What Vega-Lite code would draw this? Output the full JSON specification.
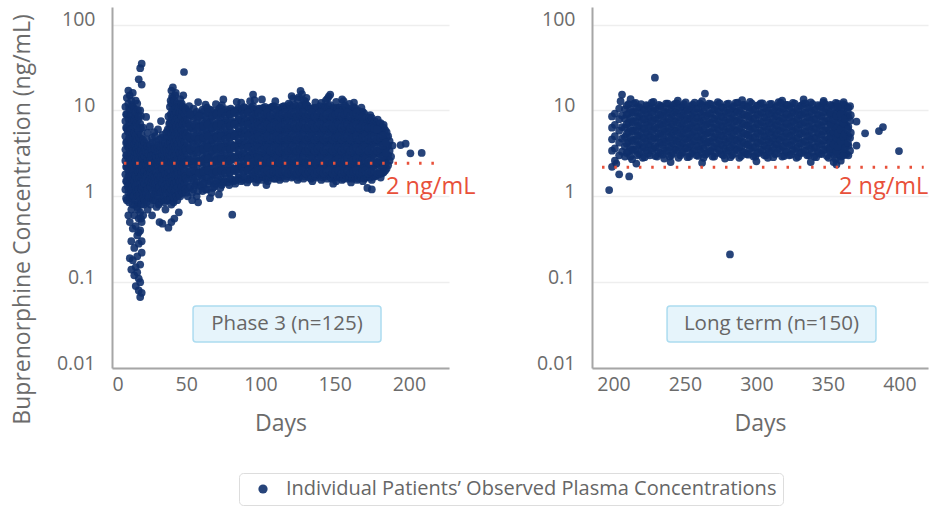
{
"$schema":"https://vega.github.io/schema/vega-lite/v6.json",
"padding":{"left":11,"top":7,"right":5,"bottom":0},
"background":"white",
"config":{"font":"Open Sans","view":{"stroke":null},
"axis":{"labelFont":"Open Sans","labelFontSize":19.5,"labelColor":"#6b6b6b","titleFont":"Open Sans","titleFontSize":23,"titleFontWeight":"normal","titleColor":"#6b6b6b","domainColor":"#a6a6a6","domainWidth":2,"ticks":false,"tickSize":0,"gridColor":"#eeeeee","gridWidth":1.5}},
"datasets":{
"phase3":[
{"d":9,"c":1.2},{"d":9,"c":1.8},{"d":9,"c":2.6},{"d":9,"c":3.5},{"d":9,"c":5.0},{"d":9,"c":7.5},{"d":9,"c":11},
{"d":9.5,"c":0.95},{"d":9.5,"c":1.5},{"d":9.5,"c":2.2},{"d":9.5,"c":3.0},{"d":9.5,"c":4.2},{"d":9.5,"c":6.3},{"d":9.5,"c":9},
{"d":10,"c":0.9},{"d":10,"c":1.5},{"d":10,"c":2.2},{"d":10,"c":3.0},{"d":10,"c":4.3},{"d":10,"c":6.2},{"d":10,"c":9.0},{"d":10,"c":14},
{"d":10.5,"c":1.3},{"d":10.5,"c":2.4},{"d":10.5,"c":3.8},{"d":10.5,"c":5.8},
{"d":11,"c":1.1},{"d":11,"c":1.7},{"d":11,"c":2.0},{"d":11,"c":2.8},{"d":11,"c":4.0},{"d":11,"c":5.6},{"d":11,"c":8.0},{"d":11,"c":12},{"d":11,"c":17},{"d":11,"c":0.6},
{"d":11.5,"c":0.85},{"d":11.5,"c":1.35},{"d":11.5,"c":2.5},{"d":11.5,"c":3.6},{"d":11.5,"c":4.8},{"d":11.5,"c":7.0},{"d":11.5,"c":10.5},
{"d":12,"c":0.5},{"d":12,"c":1.0},{"d":12,"c":1.4},{"d":12,"c":1.9},{"d":12,"c":2.5},{"d":12,"c":3.3},{"d":12,"c":4.7},{"d":12,"c":6.8},{"d":12,"c":10},{"d":12,"c":15},{"d":12,"c":0.19},
{"d":12.5,"c":1.1},{"d":12.5,"c":1.7},{"d":12.5,"c":2.9},{"d":12.5,"c":4.0},{"d":12.5,"c":6.0},{"d":12.5,"c":8.8},
{"d":13,"c":0.7},{"d":13,"c":1.2},{"d":13,"c":1.6},{"d":13,"c":2.3},{"d":13,"c":3.1},{"d":13,"c":4.4},{"d":13,"c":6.0},{"d":13,"c":8.6},{"d":13,"c":13},{"d":13,"c":0.3},{"d":13,"c":0.14},
{"d":13.5,"c":0.95},{"d":13.5,"c":1.45},{"d":13.5,"c":2.05},{"d":13.5,"c":2.7},{"d":13.5,"c":3.8},{"d":13.5,"c":5.4},{"d":13.5,"c":7.7},{"d":13.5,"c":11.5},
{"d":14,"c":0.8},{"d":14,"c":1.3},{"d":14,"c":1.8},{"d":14,"c":2.4},{"d":14,"c":3.6},{"d":14,"c":5.2},{"d":14,"c":7.3},{"d":14,"c":11},{"d":14,"c":16},{"d":14,"c":0.18},{"d":14,"c":0.42},
{"d":14.5,"c":1.0},{"d":14.5,"c":1.55},{"d":14.5,"c":2.0},{"d":14.5,"c":3.4},{"d":14.5,"c":4.9},
{"d":15,"c":0.6},{"d":15,"c":1.0},{"d":15,"c":1.5},{"d":15,"c":2.1},{"d":15,"c":2.9},{"d":15,"c":4.0},{"d":15,"c":5.5},{"d":15,"c":7.8},{"d":15,"c":0.12},{"d":15,"c":0.25},{"d":15,"c":10.5},
{"d":15.5,"c":0.8},{"d":15.5,"c":1.2},{"d":15.5,"c":1.75},{"d":15.5,"c":2.5},{"d":15.5,"c":3.3},{"d":15.5,"c":4.6},{"d":15.5,"c":6.5},{"d":15.5,"c":8.8},
{"d":16,"c":0.45},{"d":16,"c":0.9},{"d":16,"c":1.3},{"d":16,"c":1.7},{"d":16,"c":2.6},{"d":16,"c":3.8},{"d":16,"c":5.1},{"d":16,"c":9.5},{"d":16,"c":0.09},{"d":16,"c":0.15},{"d":16,"c":13},
{"d":16.5,"c":1.15},{"d":16.5,"c":2.3},{"d":16.5,"c":3.5},{"d":16.5,"c":4.4},{"d":16.5,"c":7.0},
{"d":17,"c":0.35},{"d":17,"c":0.75},{"d":17,"c":1.1},{"d":17,"c":1.6},{"d":17,"c":2.2},{"d":17,"c":3.2},{"d":17,"c":4.6},{"d":17,"c":6.5},{"d":17,"c":12},{"d":17,"c":0.13},{"d":17,"c":0.2},
{"d":17.5,"c":0.7},{"d":17.5,"c":1.0},{"d":17.5,"c":1.4},{"d":17.5,"c":1.95},{"d":17.5,"c":2.7},{"d":17.5,"c":3.7},{"d":17.5,"c":5.3},{"d":17.5,"c":7.8},{"d":17.5,"c":10},
{"d":18,"c":0.28},{"d":18,"c":0.55},{"d":18,"c":0.85},{"d":18,"c":1.2},{"d":18,"c":1.9},{"d":18,"c":2.7},{"d":18,"c":3.9},{"d":18,"c":5.8},{"d":18,"c":8.5},{"d":18,"c":23},{"d":18,"c":0.08},{"d":18,"c":0.11},{"d":18,"c":0.38},
{"d":18.5,"c":1.05},{"d":18.5,"c":1.6},{"d":18.5,"c":2.35},{"d":18.5,"c":3.3},{"d":18.5,"c":4.8},
{"d":19,"c":0.4},{"d":19,"c":0.65},{"d":19,"c":1.0},{"d":19,"c":1.4},{"d":19,"c":2.0},{"d":19,"c":3.0},{"d":19,"c":4.2},{"d":19,"c":7.0},{"d":19,"c":31},{"d":19,"c":0.067},{"d":19,"c":0.1},{"d":19,"c":0.16},{"d":19,"c":10},
{"d":19.5,"c":0.55},{"d":19.5,"c":0.9},{"d":19.5,"c":1.25},{"d":19.5,"c":1.7},{"d":19.5,"c":2.3},{"d":19.5,"c":3.2},{"d":19.5,"c":4.7},{"d":19.5,"c":6.2},{"d":19.5,"c":8.6},
{"d":20,"c":0.5},{"d":20,"c":0.8},{"d":20,"c":1.2},{"d":20,"c":1.8},{"d":20,"c":2.5},{"d":20,"c":3.4},{"d":20,"c":5.2},{"d":20,"c":35},{"d":20,"c":20},{"d":20,"c":0.22},{"d":20,"c":0.075},{"d":20,"c":0.3},
{"d":20.5,"c":1.3},{"d":20.5,"c":2.0},{"d":20.5,"c":2.8},{"d":20.5,"c":4.0},
{"d":21,"c":0.6},{"d":21,"c":1.0},{"d":21,"c":1.5},{"d":21,"c":2.3},{"d":21,"c":3.1},{"d":21,"c":4.5},{"d":21,"c":6.3},{"d":21,"c":0.95},
{"d":21.5,"c":0.8},{"d":21.5,"c":1.25},{"d":21.5,"c":1.9},{"d":21.5,"c":2.7},{"d":21.5,"c":3.8},
{"d":22,"c":0.9},{"d":22,"c":1.4},{"d":22,"c":2.0},{"d":22,"c":2.9},{"d":22,"c":4.2},
{"d":22.5,"c":1.15},{"d":22.5,"c":1.7},{"d":22.5,"c":2.45},{"d":22.5,"c":3.5},
{"d":23,"c":1.1},{"d":23,"c":1.6},{"d":23,"c":2.3},{"d":23,"c":3.3},{"d":23,"c":8.4},
{"d":23.5,"c":0.85},{"d":23.5,"c":1.35},{"d":23.5,"c":1.95},{"d":23.5,"c":2.75},{"d":23.5,"c":4.6},
{"d":24,"c":0.7},{"d":24,"c":1.2},{"d":24,"c":1.8},{"d":24,"c":2.6},{"d":24,"c":3.8},{"d":24,"c":5.5},
{"d":24.5,"c":1.0},{"d":24.5,"c":1.5},{"d":24.5,"c":2.2},{"d":24.5,"c":3.2},
{"d":25,"c":0.95},{"d":25,"c":1.5},{"d":25,"c":2.1},{"d":25,"c":3.0},
{"d":25.5,"c":1.25},{"d":25.5,"c":1.8},{"d":25.5,"c":2.6},{"d":25.5,"c":3.8},{"d":25.5,"c":6.5},
{"d":26,"c":0.8},{"d":26,"c":1.3},{"d":26,"c":1.9},{"d":26,"c":2.7},{"d":26,"c":4.0},
{"d":26.5,"c":0.95},{"d":26.5,"c":1.45},{"d":26.5,"c":2.1},{"d":26.5,"c":3.0},
{"d":27,"c":0.6},{"d":27,"c":1.0},{"d":27,"c":1.6},{"d":27,"c":2.4},{"d":27,"c":3.5},{"d":27,"c":4.8},
{"d":27.5,"c":1.15},{"d":27.5,"c":1.75},{"d":27.5,"c":2.7},{"d":27.5,"c":4.2},
{"d":28,"c":0.9},{"d":28,"c":1.4},{"d":28,"c":2.2},{"d":28,"c":3.1},
{"d":28.5,"c":1.05},{"d":28.5,"c":1.6},{"d":28.5,"c":2.45},{"d":28.5,"c":3.5},{"d":28.5,"c":5.6},
{"d":29,"c":1.2},{"d":29,"c":1.7},{"d":29,"c":2.5},{"d":29,"c":3.6},{"d":29,"c":5.0},
{"d":29.5,"c":0.9},{"d":29.5,"c":1.4},{"d":29.5,"c":2.0},{"d":29.5,"c":2.95},
{"d":30,"c":0.75},{"d":30,"c":1.1},{"d":30,"c":1.9},{"d":30,"c":2.8},{"d":30,"c":4.3},
{"d":30.5,"c":1.25},{"d":30.5,"c":1.7},{"d":30.5,"c":2.45},{"d":30.5,"c":3.7},
{"d":31,"c":1.0},{"d":31,"c":1.5},{"d":31,"c":2.3},{"d":31,"c":3.3},{"d":31,"c":6.0},
{"d":31.5,"c":0.8},{"d":31.5,"c":1.25},{"d":31.5,"c":1.8},{"d":31.5,"c":2.6},{"d":31.5,"c":4.0},
{"d":32,"c":0.5},{"d":32,"c":0.85},{"d":32,"c":1.3},{"d":32,"c":2.0},{"d":32,"c":2.9},{"d":32,"c":4.6},
{"d":32.5,"c":1.1},{"d":32.5,"c":1.6},{"d":32.5,"c":2.4},{"d":32.5,"c":3.5},
{"d":33,"c":1.1},{"d":33,"c":1.7},{"d":33,"c":2.6},{"d":33,"c":3.8},{"d":33,"c":7.5},
{"d":33.5,"c":0.95},{"d":33.5,"c":1.45},{"d":33.5,"c":2.15},{"d":33.5,"c":3.15},{"d":33.5,"c":4.8},
{"d":34,"c":0.48},{"d":34,"c":0.9},{"d":34,"c":1.4},{"d":34,"c":2.1},{"d":34,"c":3.0},{"d":34,"c":5.2},
{"d":34.5,"c":1.2},{"d":34.5,"c":1.75},{"d":34.5,"c":2.6},{"d":34.5,"c":3.9},
{"d":35,"c":1.0},{"d":35,"c":1.6},{"d":35,"c":2.4},{"d":35,"c":3.5},
{"d":35.5,"c":0.85},{"d":35.5,"c":1.3},{"d":35.5,"c":1.95},{"d":35.5,"c":2.9},{"d":35.5,"c":4.5},
{"d":36,"c":0.7},{"d":36,"c":1.2},{"d":36,"c":1.8},{"d":36,"c":2.7},{"d":36,"c":4.1},
{"d":36.5,"c":1.05},{"d":36.5,"c":1.55},{"d":36.5,"c":2.4},{"d":36.5,"c":3.5},{"d":36.5,"c":5.5},
{"d":37,"c":0.9},{"d":37,"c":1.4},{"d":37,"c":2.2},{"d":37,"c":3.2},{"d":37,"c":4.8},
{"d":37.5,"c":1.2},{"d":37.5,"c":1.7},{"d":37.5,"c":2.6},{"d":37.5,"c":3.8},{"d":37.5,"c":6.0},
{"d":38,"c":0.9},{"d":38,"c":1.3},{"d":38,"c":1.9},{"d":38,"c":2.8},{"d":38,"c":4.0},{"d":38,"c":5.8},{"d":38,"c":8.5},{"d":38,"c":0.43},
{"d":38.5,"c":1.1},{"d":38.5,"c":1.6},{"d":38.5,"c":2.35},{"d":38.5,"c":3.4},{"d":38.5,"c":4.9},{"d":38.5,"c":7.0},
{"d":39,"c":1.1},{"d":39,"c":1.6},{"d":39,"c":2.3},{"d":39,"c":3.4},{"d":39,"c":5.0},{"d":39,"c":7.2},{"d":39,"c":11},
{"d":39.5,"c":0.95},{"d":39.5,"c":1.4},{"d":39.5,"c":2.0},{"d":39.5,"c":2.9},{"d":39.5,"c":4.2},{"d":39.5,"c":6.1},{"d":39.5,"c":9.0},{"d":39.5,"c":13},
{"d":40,"c":0.8},{"d":40,"c":1.2},{"d":40,"c":1.7},{"d":40,"c":2.5},{"d":40,"c":3.7},{"d":40,"c":5.4},{"d":40,"c":8.0},{"d":40,"c":12},{"d":40,"c":17},{"d":40,"c":0.5},
{"d":40.5,"c":1.05},{"d":40.5,"c":1.5},{"d":40.5,"c":2.2},{"d":40.5,"c":3.2},{"d":40.5,"c":4.7},{"d":40.5,"c":6.9},{"d":40.5,"c":10},{"d":40.5,"c":14.5},
{"d":41,"c":1.0},{"d":41,"c":1.5},{"d":41,"c":2.1},{"d":41,"c":3.1},{"d":41,"c":4.5},{"d":41,"c":6.5},{"d":41,"c":9.5},{"d":41,"c":14},{"d":41,"c":18.5},
{"d":41.5,"c":0.85},{"d":41.5,"c":1.25},{"d":41.5,"c":1.8},{"d":41.5,"c":2.6},{"d":41.5,"c":3.8},{"d":41.5,"c":5.6},{"d":41.5,"c":8.2},{"d":41.5,"c":12},
{"d":42,"c":0.95},{"d":42,"c":1.4},{"d":42,"c":2.0},{"d":42,"c":2.9},{"d":42,"c":4.2},{"d":42,"c":6.0},{"d":42,"c":8.8},{"d":42,"c":13},{"d":42,"c":0.55},
{"d":42.5,"c":1.15},{"d":42.5,"c":1.65},{"d":42.5,"c":2.4},{"d":42.5,"c":3.5},{"d":42.5,"c":5.0},{"d":42.5,"c":7.3},{"d":42.5,"c":10.5},{"d":42.5,"c":15},
{"d":43,"c":1.2},{"d":43,"c":1.8},{"d":43,"c":2.6},{"d":43,"c":3.8},{"d":43,"c":5.5},{"d":43,"c":7.8},{"d":43,"c":11},{"d":43,"c":16},
{"d":43.5,"c":1.0},{"d":43.5,"c":1.45},{"d":43.5,"c":2.15},{"d":43.5,"c":3.1},{"d":43.5,"c":4.5},{"d":43.5,"c":6.5},{"d":43.5,"c":9.4},
{"d":44,"c":0.9},{"d":44,"c":1.3},{"d":44,"c":1.9},{"d":44,"c":2.7},{"d":44,"c":4.0},{"d":44,"c":5.7},{"d":44,"c":8.2},{"d":44,"c":12},
{"d":44.5,"c":1.25},{"d":44.5,"c":1.8},{"d":44.5,"c":2.6},{"d":44.5,"c":3.8},{"d":44.5,"c":5.4},{"d":44.5,"c":7.9},{"d":44.5,"c":11},
{"d":45,"c":1.1},{"d":45,"c":1.6},{"d":45,"c":2.4},{"d":45,"c":3.5},{"d":45,"c":5.1},{"d":45,"c":7.4},{"d":45,"c":10.5},{"d":45,"c":0.65},
{"d":45.5,"c":1.05},{"d":45.5,"c":1.5},{"d":45.5,"c":2.2},{"d":45.5,"c":3.2},{"d":45.5,"c":4.6},{"d":45.5,"c":6.6},{"d":45.5,"c":9.2},
{"d":46,"c":1.0},{"d":46,"c":1.5},{"d":46,"c":2.2},{"d":46,"c":3.2},{"d":46,"c":4.6},{"d":46,"c":6.7},{"d":46,"c":9.6},{"d":46,"c":13.5},
{"d":46.5,"c":1.2},{"d":46.5,"c":1.75},{"d":46.5,"c":2.55},{"d":46.5,"c":3.7},{"d":46.5,"c":5.4},{"d":46.5,"c":7.8},{"d":46.5,"c":11.5},
{"d":47,"c":1.3},{"d":47,"c":1.9},{"d":47,"c":2.8},{"d":47,"c":4.1},{"d":47,"c":5.9},{"d":47,"c":8.5},{"d":47,"c":12},
{"d":47.5,"c":1.1},{"d":47.5,"c":1.55},{"d":47.5,"c":2.3},{"d":47.5,"c":3.3},{"d":47.5,"c":4.8},{"d":47.5,"c":6.8},{"d":47.5,"c":9.8},
{"d":48,"c":1.2},{"d":48,"c":1.7},{"d":48,"c":2.5},{"d":48,"c":3.6},{"d":48,"c":5.2},{"d":48,"c":7.6},{"d":48,"c":11},{"d":48,"c":15},{"d":48.5,"c":28},
{"d":48.5,"c":1.3},{"d":48.5,"c":1.85},{"d":48.5,"c":2.7},{"d":48.5,"c":3.9},{"d":48.5,"c":5.6},{"d":48.5,"c":8.2},
{"d":49,"c":1.4},{"d":49,"c":2.0},{"d":49,"c":2.9},{"d":49,"c":4.3},{"d":49,"c":6.2},{"d":49,"c":9.0},
{"d":49.5,"c":1.2},{"d":49.5,"c":1.7},{"d":49.5,"c":2.5},{"d":49.5,"c":3.6},{"d":49.5,"c":5.3},{"d":49.5,"c":7.6},{"d":49.5,"c":10.5},
{"d":50,"c":1.1},{"d":50,"c":1.6},{"d":50,"c":2.4},{"d":50,"c":3.4},{"d":50,"c":5.0},{"d":50,"c":7.0},{"d":50,"c":10},
{"d":51,"c":1.0},{"d":51,"c":1.5},{"d":51,"c":2.2},{"d":51,"c":3.0},{"d":51,"c":4.1},{"d":51,"c":5.6},{"d":51,"c":7.8},{"d":52,"c":11.2},
{"d":52,"c":1.25},{"d":52,"c":1.85},{"d":52,"c":2.7},{"d":52,"c":3.7},{"d":52,"c":5.0},{"d":52,"c":6.9},{"d":52,"c":9.4},
{"d":53,"c":1.3},{"d":53,"c":1.8},{"d":53,"c":2.5},{"d":53,"c":3.4},{"d":53,"c":4.6},{"d":53,"c":6.3},{"d":53,"c":8.9},
{"d":54,"c":1.1},{"d":54,"c":1.6},{"d":54,"c":2.35},{"d":54,"c":3.3},{"d":54,"c":4.5},{"d":54,"c":6.2},{"d":54,"c":8.6},
{"d":55,"c":1.2},{"d":55,"c":1.7},{"d":55,"c":2.3},{"d":55,"c":3.2},{"d":55,"c":4.3},{"d":55,"c":5.9},{"d":55,"c":8.1},{"d":55,"c":10.5},
{"d":56,"c":1.35},{"d":56,"c":1.9},{"d":56,"c":2.55},{"d":56,"c":3.45},{"d":56,"c":4.8},{"d":56,"c":6.6},{"d":56,"c":9.0},
{"d":57,"c":1.0},{"d":57,"c":1.45},{"d":57,"c":2.0},{"d":57,"c":2.8},{"d":57,"c":3.8},{"d":57,"c":5.2},{"d":57,"c":7.2},{"d":57,"c":9.6},
{"d":58,"c":1.15},{"d":58,"c":1.7},{"d":58,"c":2.4},{"d":58,"c":3.25},{"d":58,"c":4.4},{"d":58,"c":5.9},{"d":58,"c":8.2},
{"d":59,"c":1.35},{"d":59,"c":1.9},{"d":59,"c":2.6},{"d":59,"c":3.6},{"d":59,"c":4.9},{"d":59,"c":6.7},{"d":59,"c":9.2},
{"d":60,"c":1.3},{"d":60,"c":1.75},{"d":60,"c":2.5},{"d":60,"c":3.5},{"d":60,"c":4.7},{"d":60,"c":6.4},{"d":60,"c":8.8},
{"d":61,"c":1.15},{"d":61,"c":1.6},{"d":61,"c":2.2},{"d":61,"c":3.0},{"d":61,"c":4.1},{"d":61,"c":5.6},{"d":61,"c":7.6},{"d":61,"c":10.2},
{"d":62,"c":1.45},{"d":62,"c":2.0},{"d":62,"c":2.75},{"d":62,"c":3.8},{"d":62,"c":5.2},{"d":62,"c":7.0},{"d":62,"c":9.8},
{"d":63,"c":1.2},{"d":63,"c":1.75},{"d":63,"c":2.4},{"d":63,"c":3.3},{"d":63,"c":4.5},{"d":63,"c":6.1},{"d":63,"c":8.4},{"d":63,"c":11.7},
{"d":64,"c":1.2},{"d":64,"c":1.65},{"d":64,"c":2.3},{"d":64,"c":3.1},{"d":64,"c":4.2},{"d":64,"c":5.8},{"d":64,"c":8.0},{"d":64,"c":10.8},
{"d":65,"c":1.4},{"d":65,"c":1.95},{"d":65,"c":2.7},{"d":65,"c":3.7},{"d":65,"c":5.0},{"d":65,"c":6.9},{"d":65,"c":9.4},
{"d":66,"c":1.5},{"d":66,"c":2.1},{"d":66,"c":2.85},{"d":66,"c":3.9},{"d":66,"c":5.4},{"d":66,"c":7.3},{"d":66,"c":10.2},
{"d":67,"c":1.1},{"d":67,"c":1.55},{"d":67,"c":2.1},{"d":67,"c":2.9},{"d":67,"c":4.0},{"d":67,"c":5.4},{"d":67,"c":7.4},{"d":67,"c":10.0},
{"d":68,"c":1.25},{"d":68,"c":1.75},{"d":68,"c":2.4},{"d":68,"c":3.3},{"d":68,"c":4.5},{"d":68,"c":6.2},{"d":68,"c":8.5},
{"d":69,"c":1.3},{"d":69,"c":1.8},{"d":69,"c":2.5},{"d":69,"c":3.45},{"d":69,"c":4.7},{"d":69,"c":6.4},{"d":69,"c":8.8},
{"d":70,"c":1.4},{"d":70,"c":1.95},{"d":70,"c":2.65},{"d":70,"c":3.65},{"d":70,"c":5.0},{"d":70,"c":6.8},{"d":70,"c":9.3},
{"d":71,"c":1.5},{"d":71,"c":2.05},{"d":71,"c":2.8},{"d":71,"c":3.8},{"d":71,"c":5.2},{"d":71,"c":7.1},{"d":71,"c":9.7},
{"d":72,"c":1.55},{"d":72,"c":2.15},{"d":72,"c":2.95},{"d":72,"c":4.0},{"d":72,"c":5.5},{"d":72,"c":7.5},{"d":72,"c":10.4},
{"d":73,"c":1.25},{"d":73,"c":1.7},{"d":73,"c":2.35},{"d":73,"c":3.2},{"d":73,"c":4.4},{"d":73,"c":6.0},{"d":73,"c":8.2},{"d":73,"c":10.8},
{"d":74,"c":1.35},{"d":74,"c":1.85},{"d":74,"c":2.5},{"d":74,"c":3.45},{"d":74,"c":4.75},{"d":74,"c":6.5},{"d":74,"c":8.9},{"d":74,"c":11.5},
{"d":75,"c":1.45},{"d":75,"c":2.0},{"d":75,"c":2.75},{"d":75,"c":3.75},{"d":75,"c":5.1},{"d":75,"c":7.0},{"d":75,"c":9.5},{"d":75,"c":13.4},
{"d":76,"c":1.5},{"d":76,"c":2.05},{"d":76,"c":2.8},{"d":76,"c":3.85},{"d":76,"c":5.3},{"d":76,"c":7.2},{"d":76,"c":9.9},
{"d":77,"c":1.6},{"d":77,"c":2.2},{"d":77,"c":3.0},{"d":77,"c":4.1},{"d":77,"c":5.6},{"d":77,"c":7.6},{"d":77,"c":10.3},
{"d":78,"c":1.45},{"d":78,"c":2.0},{"d":78,"c":2.7},{"d":78,"c":3.7},{"d":78,"c":5.05},{"d":78,"c":6.9},{"d":78,"c":9.4},
{"d":79,"c":1.35},{"d":79,"c":1.85},{"d":79,"c":2.55},{"d":79,"c":3.5},{"d":79,"c":4.8},{"d":79,"c":6.5},{"d":79,"c":8.9},
{"d":80,"c":1.6},{"d":80,"c":2.2},{"d":80,"c":3.0},{"d":80,"c":4.1},{"d":80,"c":5.6},{"d":80,"c":7.7},{"d":80,"c":10.5},
{"d":81,"c":1.55},{"d":81,"c":2.1},{"d":81,"c":2.9},{"d":81,"c":3.95},{"d":81,"c":5.4},{"d":81,"c":7.3},{"d":81,"c":10.0},{"d":81,"c":0.61},
{"d":82,"c":1.5},{"d":82,"c":2.05},{"d":82,"c":2.8},{"d":82,"c":3.8},{"d":82,"c":5.2},{"d":82,"c":7.1},{"d":82,"c":9.6},
{"d":83,"c":1.4},{"d":83,"c":1.95},{"d":83,"c":2.65},{"d":83,"c":3.6},{"d":83,"c":4.95},{"d":83,"c":6.75},{"d":83,"c":9.2},
{"d":84,"c":1.55},{"d":84,"c":2.1},{"d":84,"c":2.9},{"d":84,"c":3.95},{"d":84,"c":5.4},{"d":84,"c":7.4},{"d":84,"c":10.1},
{"d":85,"c":1.65},{"d":85,"c":2.25},{"d":85,"c":3.1},{"d":85,"c":4.2},{"d":85,"c":5.7},{"d":85,"c":7.8},{"d":85,"c":10.6},
{"d":86,"c":1.6},{"d":86,"c":2.2},{"d":86,"c":2.95},{"d":86,"c":4.05},{"d":86,"c":5.5},{"d":86,"c":7.5},{"d":86,"c":10.2},
{"d":87,"c":1.5},{"d":87,"c":2.05},{"d":87,"c":2.8},{"d":87,"c":3.85},{"d":87,"c":5.25},{"d":87,"c":7.15},{"d":87,"c":9.75},{"d":87,"c":12.3},
{"d":88,"c":1.55},{"d":88,"c":2.15},{"d":88,"c":2.9},{"d":88,"c":3.95},{"d":88,"c":5.4},{"d":88,"c":7.35},{"d":88,"c":10.0},
{"d":89,"c":1.7},{"d":89,"c":2.3},{"d":89,"c":3.15},{"d":89,"c":4.3},{"d":89,"c":5.85},{"d":89,"c":8.0},{"d":89,"c":10.9},
{"d":90,"c":1.65},{"d":90,"c":2.25},{"d":90,"c":3.05},{"d":90,"c":4.2},{"d":90,"c":5.7},{"d":90,"c":7.8},{"d":90,"c":10.6},
{"d":91,"c":1.45},{"d":91,"c":2.0},{"d":91,"c":2.7},{"d":91,"c":3.7},{"d":91,"c":5.05},{"d":91,"c":6.9},{"d":91,"c":9.4},
{"d":92,"c":1.55},{"d":92,"c":2.1},{"d":92,"c":2.85},{"d":92,"c":3.9},{"d":92,"c":5.3},{"d":92,"c":7.2},{"d":92,"c":9.9},
{"d":93,"c":1.6},{"d":93,"c":2.2},{"d":93,"c":3.0},{"d":93,"c":4.1},{"d":93,"c":5.55},{"d":93,"c":7.6},{"d":93,"c":10.4},{"d":93,"c":12.8},
{"d":94,"c":1.7},{"d":94,"c":2.3},{"d":94,"c":3.15},{"d":94,"c":4.3},{"d":94,"c":5.85},{"d":94,"c":8.0},{"d":94,"c":10.8},
{"d":95,"c":1.75},{"d":95,"c":2.4},{"d":95,"c":3.25},{"d":95,"c":4.45},{"d":95,"c":6.05},{"d":95,"c":8.25},{"d":95,"c":11.2},{"d":95,"c":15.3},
{"d":96,"c":1.6},{"d":96,"c":2.15},{"d":96,"c":2.95},{"d":96,"c":4.0},{"d":96,"c":5.5},{"d":96,"c":7.5},{"d":96,"c":10.2},{"d":96,"c":13.2},
{"d":97,"c":1.45},{"d":97,"c":1.95},{"d":97,"c":2.65},{"d":97,"c":3.65},{"d":97,"c":4.95},{"d":97,"c":6.75},{"d":97,"c":9.2},
{"d":98,"c":1.55},{"d":98,"c":2.1},{"d":98,"c":2.9},{"d":98,"c":3.9},{"d":98,"c":5.35},{"d":98,"c":7.3},{"d":98,"c":9.9},
{"d":99,"c":1.65},{"d":99,"c":2.25},{"d":99,"c":3.05},{"d":99,"c":4.15},{"d":99,"c":5.65},{"d":99,"c":7.7},{"d":99,"c":10.5},
{"d":100,"c":1.65},{"d":100,"c":2.25},{"d":100,"c":3.05},{"d":100,"c":4.15},{"d":100,"c":5.65},{"d":100,"c":7.7},{"d":100,"c":10.5},
{"d":101,"c":1.55},{"d":101,"c":2.1},{"d":101,"c":2.85},{"d":101,"c":3.9},{"d":101,"c":5.3},{"d":101,"c":7.25},{"d":101,"c":9.85},{"d":101,"c":13.4},
{"d":102,"c":1.7},{"d":102,"c":2.3},{"d":102,"c":3.1},{"d":102,"c":4.25},{"d":102,"c":5.8},{"d":102,"c":7.9},{"d":102,"c":10.7},
{"d":103,"c":1.8},{"d":103,"c":2.45},{"d":103,"c":3.35},{"d":103,"c":4.55},{"d":103,"c":6.2},{"d":103,"c":8.45},{"d":103,"c":11.0},
{"d":104,"c":1.6},{"d":104,"c":2.2},{"d":104,"c":3.0},{"d":104,"c":4.05},{"d":104,"c":5.55},{"d":104,"c":7.55},{"d":104,"c":10.3},
{"d":105,"c":1.5},{"d":105,"c":2.05},{"d":105,"c":2.8},{"d":105,"c":3.8},{"d":105,"c":5.2},{"d":105,"c":7.05},{"d":105,"c":9.6},
{"d":106,"c":1.65},{"d":106,"c":2.25},{"d":106,"c":3.05},{"d":106,"c":4.2},{"d":106,"c":5.7},{"d":106,"c":7.75},{"d":106,"c":10.6},
{"d":107,"c":1.7},{"d":107,"c":2.3},{"d":107,"c":3.15},{"d":107,"c":4.3},{"d":107,"c":5.85},{"d":107,"c":7.95},{"d":107,"c":10.8},
{"d":108,"c":1.75},{"d":108,"c":2.35},{"d":108,"c":3.2},{"d":108,"c":4.4},{"d":108,"c":6.0},{"d":108,"c":8.15},{"d":108,"c":11.1},
{"d":109,"c":1.6},{"d":109,"c":2.15},{"d":109,"c":2.95},{"d":109,"c":4.0},{"d":109,"c":5.45},{"d":109,"c":7.45},{"d":109,"c":11.2},
{"d":110,"c":1.6},{"d":110,"c":2.2},{"d":110,"c":3.0},{"d":110,"c":4.1},{"d":110,"c":5.55},{"d":110,"c":7.6},{"d":110,"c":10.3},
{"d":111,"c":1.85},{"d":111,"c":2.5},{"d":111,"c":3.4},{"d":111,"c":4.65},{"d":111,"c":6.3},{"d":111,"c":8.6},
{"d":112,"c":1.7},{"d":112,"c":2.3},{"d":112,"c":3.15},{"d":112,"c":4.3},{"d":112,"c":5.85},{"d":112,"c":7.95},{"d":112,"c":10.8},
{"d":113,"c":1.55},{"d":113,"c":2.1},{"d":113,"c":2.9},{"d":113,"c":3.95},{"d":113,"c":5.35},{"d":113,"c":7.3},{"d":113,"c":9.9},
{"d":114,"c":1.65},{"d":114,"c":2.25},{"d":114,"c":3.05},{"d":114,"c":4.15},{"d":114,"c":5.65},{"d":114,"c":7.7},{"d":114,"c":10.5},
{"d":115,"c":1.75},{"d":115,"c":2.35},{"d":115,"c":3.2},{"d":115,"c":4.4},{"d":115,"c":6.0},{"d":115,"c":8.15},{"d":115,"c":11.1},
{"d":116,"c":1.75},{"d":116,"c":2.4},{"d":116,"c":3.25},{"d":116,"c":4.45},{"d":116,"c":6.05},{"d":116,"c":8.25},{"d":116,"c":11.2},
{"d":117,"c":1.6},{"d":117,"c":2.2},{"d":117,"c":3.0},{"d":117,"c":4.1},{"d":117,"c":5.55},{"d":117,"c":7.55},{"d":117,"c":10.3},
{"d":118,"c":1.7},{"d":118,"c":2.3},{"d":118,"c":3.1},{"d":118,"c":4.25},{"d":118,"c":5.8},{"d":118,"c":7.9},{"d":118,"c":10.7},
{"d":119,"c":1.9},{"d":119,"c":2.55},{"d":119,"c":3.5},{"d":119,"c":4.75},{"d":119,"c":6.45},{"d":119,"c":8.8},{"d":119,"c":12.0},
{"d":120,"c":1.8},{"d":120,"c":2.45},{"d":120,"c":3.35},{"d":120,"c":4.55},{"d":120,"c":6.2},{"d":120,"c":8.45},{"d":120,"c":11.5},
{"d":121,"c":1.65},{"d":121,"c":2.25},{"d":121,"c":3.05},{"d":121,"c":4.15},{"d":121,"c":5.65},{"d":121,"c":7.7},{"d":121,"c":10.5},{"d":121,"c":14.7},
{"d":122,"c":1.7},{"d":122,"c":2.3},{"d":122,"c":3.15},{"d":122,"c":4.3},{"d":122,"c":5.85},{"d":122,"c":7.95},{"d":122,"c":10.8},{"d":122,"c":13.8},
{"d":123,"c":1.8},{"d":123,"c":2.45},{"d":123,"c":3.35},{"d":123,"c":4.55},{"d":123,"c":6.2},{"d":123,"c":8.45},{"d":123,"c":11.5},
{"d":124,"c":1.75},{"d":124,"c":2.4},{"d":124,"c":3.25},{"d":124,"c":4.45},{"d":124,"c":6.05},{"d":124,"c":8.25},{"d":124,"c":11.2},
{"d":125,"c":1.55},{"d":125,"c":2.1},{"d":125,"c":2.85},{"d":125,"c":3.9},{"d":125,"c":5.3},{"d":125,"c":7.2},{"d":125,"c":9.8},{"d":125,"c":13.5},
{"d":126,"c":1.65},{"d":126,"c":2.25},{"d":126,"c":3.05},{"d":126,"c":4.15},{"d":126,"c":5.65},{"d":126,"c":7.7},{"d":126,"c":10.5},{"d":126,"c":14.3},
{"d":127,"c":1.75},{"d":127,"c":2.4},{"d":127,"c":3.25},{"d":127,"c":4.45},{"d":127,"c":6.05},{"d":127,"c":8.25},{"d":127,"c":11.2},{"d":127,"c":16.9},
{"d":128,"c":1.8},{"d":128,"c":2.45},{"d":128,"c":3.35},{"d":128,"c":4.55},{"d":128,"c":6.2},{"d":128,"c":8.45},{"d":128,"c":11.5},{"d":128,"c":15.5},
{"d":129,"c":1.6},{"d":129,"c":2.15},{"d":129,"c":2.95},{"d":129,"c":4.0},{"d":129,"c":5.45},{"d":129,"c":7.45},{"d":129,"c":10.1},{"d":129,"c":13.0},
{"d":130,"c":1.7},{"d":130,"c":2.3},{"d":130,"c":3.15},{"d":130,"c":4.3},{"d":130,"c":5.85},{"d":130,"c":7.95},{"d":130,"c":10.8},{"d":130,"c":12.8},
{"d":131,"c":1.85},{"d":131,"c":2.5},{"d":131,"c":3.4},{"d":131,"c":4.65},{"d":131,"c":6.3},{"d":131,"c":8.6},{"d":131,"c":11.7},{"d":131,"c":14.0},
{"d":132,"c":1.75},{"d":132,"c":2.4},{"d":132,"c":3.25},{"d":132,"c":4.45},{"d":132,"c":6.05},{"d":132,"c":8.25},{"d":132,"c":11.2},
{"d":133,"c":1.65},{"d":133,"c":2.25},{"d":133,"c":3.05},{"d":133,"c":4.15},{"d":133,"c":5.65},{"d":133,"c":7.7},{"d":133,"c":10.5},
{"d":134,"c":1.6},{"d":134,"c":2.2},{"d":134,"c":3.0},{"d":134,"c":4.1},{"d":134,"c":5.55},{"d":134,"c":7.55},{"d":134,"c":10.3},
{"d":135,"c":1.5},{"d":135,"c":2.05},{"d":135,"c":2.8},{"d":135,"c":3.8},{"d":135,"c":5.2},{"d":135,"c":7.05},{"d":135,"c":9.6},
{"d":136,"c":1.7},{"d":136,"c":2.3},{"d":136,"c":3.1},{"d":136,"c":4.25},{"d":136,"c":5.8},{"d":136,"c":7.9},{"d":136,"c":10.7},
{"d":137,"c":1.7},{"d":137,"c":2.3},{"d":137,"c":3.15},{"d":137,"c":4.3},{"d":137,"c":5.85},{"d":137,"c":7.95},{"d":137,"c":10.8},
{"d":138,"c":1.65},{"d":138,"c":2.25},{"d":138,"c":3.05},{"d":138,"c":4.15},{"d":138,"c":5.65},{"d":138,"c":7.7},{"d":138,"c":10.5},
{"d":139,"c":1.85},{"d":139,"c":2.5},{"d":139,"c":3.4},{"d":139,"c":4.6},{"d":139,"c":6.25},{"d":139,"c":8.5},
{"d":140,"c":1.75},{"d":140,"c":2.4},{"d":140,"c":3.25},{"d":140,"c":4.45},{"d":140,"c":6.05},{"d":140,"c":8.25},{"d":140,"c":11.2},
{"d":141,"c":1.55},{"d":141,"c":2.1},{"d":141,"c":2.9},{"d":141,"c":3.95},{"d":141,"c":5.35},{"d":141,"c":7.3},{"d":141,"c":9.9},{"d":141,"c":12.2},
{"d":142,"c":1.65},{"d":142,"c":2.25},{"d":142,"c":3.05},{"d":142,"c":4.2},{"d":142,"c":5.7},{"d":142,"c":7.75},{"d":142,"c":10.6},
{"d":143,"c":1.75},{"d":143,"c":2.35},{"d":143,"c":3.2},{"d":143,"c":4.4},{"d":143,"c":6.0},{"d":143,"c":8.15},{"d":143,"c":11.1},
{"d":144,"c":1.7},{"d":144,"c":2.35},{"d":144,"c":3.2},{"d":144,"c":4.35},{"d":144,"c":5.9},{"d":144,"c":8.05},{"d":144,"c":10.9},{"d":144,"c":13},
{"d":145,"c":1.6},{"d":145,"c":2.2},{"d":145,"c":3.0},{"d":145,"c":4.1},{"d":145,"c":5.55},{"d":145,"c":7.55},{"d":145,"c":10.3},{"d":145,"c":13.6},
{"d":146,"c":1.75},{"d":146,"c":2.4},{"d":146,"c":3.25},{"d":146,"c":4.45},{"d":146,"c":6.05},{"d":146,"c":8.25},{"d":146,"c":11.2},{"d":146,"c":14.5},
{"d":147,"c":1.8},{"d":147,"c":2.45},{"d":147,"c":3.35},{"d":147,"c":4.55},{"d":147,"c":6.2},{"d":147,"c":8.45},{"d":147,"c":11.5},{"d":147,"c":15.3},
{"d":148,"c":1.6},{"d":148,"c":2.2},{"d":148,"c":3.0},{"d":148,"c":4.1},{"d":148,"c":5.55},{"d":148,"c":7.6},{"d":148,"c":10.3},
{"d":149,"c":1.65},{"d":149,"c":2.25},{"d":149,"c":3.05},{"d":149,"c":4.15},{"d":149,"c":5.65},{"d":149,"c":7.7},{"d":149,"c":10.5},
{"d":150,"c":1.7},{"d":150,"c":2.3},{"d":150,"c":3.15},{"d":150,"c":4.3},{"d":150,"c":5.85},{"d":150,"c":7.95},{"d":150,"c":10.8},
{"d":151,"c":1.5},{"d":151,"c":2.05},{"d":151,"c":2.8},{"d":151,"c":3.8},{"d":151,"c":5.2},{"d":151,"c":7.05},{"d":151,"c":9.6},{"d":151,"c":12.6},
{"d":152,"c":1.65},{"d":152,"c":2.25},{"d":152,"c":3.05},{"d":152,"c":4.15},{"d":152,"c":5.65},{"d":152,"c":7.7},{"d":152,"c":10.5},
{"d":153,"c":1.7},{"d":153,"c":2.3},{"d":153,"c":3.15},{"d":153,"c":4.3},{"d":153,"c":5.85},{"d":153,"c":7.95},{"d":153,"c":10.8},
{"d":154,"c":1.7},{"d":154,"c":2.35},{"d":154,"c":3.2},{"d":154,"c":4.35},{"d":154,"c":5.9},{"d":154,"c":8.0},{"d":154,"c":10.9},
{"d":155,"c":1.55},{"d":155,"c":2.15},{"d":155,"c":2.95},{"d":155,"c":4.0},{"d":155,"c":5.45},{"d":155,"c":7.45},{"d":155,"c":10.1},{"d":155,"c":13.4},
{"d":156,"c":1.6},{"d":156,"c":2.2},{"d":156,"c":3.0},{"d":156,"c":4.1},{"d":156,"c":5.6},{"d":156,"c":7.6},{"d":156,"c":10.3},{"d":156,"c":12.8},
{"d":157,"c":1.8},{"d":157,"c":2.45},{"d":157,"c":3.35},{"d":157,"c":4.55},{"d":157,"c":6.2},{"d":157,"c":8.45},{"d":157,"c":11.4},
{"d":158,"c":1.7},{"d":158,"c":2.3},{"d":158,"c":3.15},{"d":158,"c":4.3},{"d":158,"c":5.85},{"d":158,"c":7.9},{"d":158,"c":10.7},
{"d":159,"c":1.6},{"d":159,"c":2.2},{"d":159,"c":3.0},{"d":159,"c":4.1},{"d":159,"c":5.55},{"d":159,"c":7.55},{"d":159,"c":10.2},
{"d":160,"c":1.65},{"d":160,"c":2.25},{"d":160,"c":3.05},{"d":160,"c":4.15},{"d":160,"c":5.65},{"d":160,"c":7.7},{"d":160,"c":10.4},
{"d":161,"c":1.45},{"d":161,"c":2.0},{"d":161,"c":2.75},{"d":161,"c":3.75},{"d":161,"c":5.1},{"d":161,"c":6.95},{"d":161,"c":9.5},
{"d":162,"c":1.6},{"d":162,"c":2.2},{"d":162,"c":3.0},{"d":162,"c":4.05},{"d":162,"c":5.5},{"d":162,"c":7.5},{"d":162,"c":10.1},
{"d":163,"c":1.7},{"d":163,"c":2.35},{"d":163,"c":3.2},{"d":163,"c":4.35},{"d":163,"c":5.9},{"d":163,"c":8.0},{"d":163,"c":10.9},{"d":163,"c":12.3},
{"d":164,"c":1.7},{"d":164,"c":2.3},{"d":164,"c":3.1},{"d":164,"c":4.25},{"d":164,"c":5.8},{"d":164,"c":7.85},{"d":164,"c":10.5},
{"d":165,"c":1.55},{"d":165,"c":2.1},{"d":165,"c":2.9},{"d":165,"c":3.95},{"d":165,"c":5.35},{"d":165,"c":7.3},{"d":165,"c":9.9},
{"d":166,"c":1.6},{"d":166,"c":2.2},{"d":166,"c":3.0},{"d":166,"c":4.05},{"d":166,"c":5.5},{"d":166,"c":7.5},{"d":166,"c":9.9},
{"d":167,"c":1.75},{"d":167,"c":2.4},{"d":167,"c":3.25},{"d":167,"c":4.45},{"d":167,"c":6.0},{"d":167,"c":8.2},
{"d":168,"c":1.65},{"d":168,"c":2.25},{"d":168,"c":3.05},{"d":168,"c":4.15},{"d":168,"c":5.6},{"d":168,"c":7.5},{"d":168,"c":9.5},
{"d":169,"c":1.5},{"d":169,"c":2.05},{"d":169,"c":2.8},{"d":169,"c":3.8},{"d":169,"c":5.2},{"d":169,"c":7.05},{"d":169,"c":9.6},
{"d":170,"c":1.6},{"d":170,"c":2.2},{"d":170,"c":3.0},{"d":170,"c":4.05},{"d":170,"c":5.5},{"d":170,"c":7.3},{"d":170,"c":9.2},
{"d":171,"c":1.65},{"d":171,"c":2.25},{"d":171,"c":3.05},{"d":171,"c":4.15},{"d":171,"c":5.65},{"d":171,"c":7.7},
{"d":172,"c":1.7},{"d":172,"c":2.3},{"d":172,"c":3.1},{"d":172,"c":4.2},{"d":172,"c":5.65},{"d":172,"c":7.4},
{"d":173,"c":1.8},{"d":173,"c":2.45},{"d":173,"c":3.3},{"d":173,"c":4.5},{"d":173,"c":6.1},{"d":173,"c":8.3},
{"d":174,"c":1.65},{"d":174,"c":2.25},{"d":174,"c":3.05},{"d":174,"c":4.1},{"d":174,"c":5.5},{"d":174,"c":7.2},{"d":174,"c":8.8},
{"d":175,"c":1.2},{"d":175,"c":1.55},{"d":175,"c":2.15},{"d":175,"c":2.95},{"d":175,"c":4.0},{"d":175,"c":5.45},{"d":175,"c":7.4},{"d":175,"c":8.2},
{"d":176,"c":1.7},{"d":176,"c":2.3},{"d":176,"c":3.1},{"d":176,"c":4.2},{"d":176,"c":5.6},{"d":176,"c":7.0},
{"d":177,"c":1.7},{"d":177,"c":2.3},{"d":177,"c":3.15},{"d":177,"c":4.3},{"d":177,"c":5.85},{"d":177,"c":7.5},
{"d":178,"c":1.75},{"d":178,"c":2.35},{"d":178,"c":3.15},{"d":178,"c":4.2},{"d":178,"c":5.5},{"d":178,"c":6.9},
{"d":179,"c":1.85},{"d":179,"c":2.5},{"d":179,"c":3.4},{"d":179,"c":4.6},{"d":179,"c":6.2},{"d":179,"c":7.8},
{"d":180,"c":1.8},{"d":180,"c":2.4},{"d":180,"c":3.2},{"d":180,"c":4.3},{"d":180,"c":5.7},{"d":180,"c":7.0},
{"d":181,"c":1.65},{"d":181,"c":2.25},{"d":181,"c":3.05},{"d":181,"c":4.15},{"d":181,"c":5.6},{"d":181,"c":7.1},
{"d":182,"c":1.85},{"d":182,"c":2.5},{"d":182,"c":3.3},{"d":182,"c":4.4},{"d":182,"c":5.8},
{"d":183,"c":1.9},{"d":183,"c":2.6},{"d":183,"c":3.5},{"d":183,"c":4.7},{"d":183,"c":6.3},{"d":183,"c":6.8},
{"d":184,"c":2.0},{"d":184,"c":2.65},{"d":184,"c":3.45},{"d":184,"c":4.5},{"d":184,"c":5.9},
{"d":185,"c":2.1},{"d":185,"c":2.8},{"d":185,"c":3.7},{"d":185,"c":4.9},{"d":185,"c":5.6},
{"d":186,"c":2.3},{"d":186,"c":3.0},{"d":186,"c":3.9},{"d":186,"c":5.0},
{"d":187,"c":2.6},{"d":187,"c":3.4},{"d":187,"c":4.4},{"d":188,"c":2.9},{"d":189,"c":3.9},
{"d":194.4,"c":3.95},{"d":197.8,"c":4.1},{"d":201,"c":3.16},{"d":208.6,"c":3.2},
{"d":54,"c":0.9},{"d":58,"c":0.85},{"d":66,"c":0.95},{"d":72,"c":1.05},{"d":104,"c":1.35},{"d":149,"c":1.4},{"d":172,"c":1.25},
{"d":58,"c":12.5},{"d":70,"c":11.8},{"d":84,"c":12.6},{"d":110,"c":12.8},{"d":137,"c":12.4},{"d":160,"c":11.9},{"d":168,"c":10.8},
{"d":52.5,"c":1.93},{"d":52.5,"c":2.62},{"d":52.5,"c":3.56},{"d":52.5,"c":4.84},{"d":52.5,"c":6.6},{"d":52.5,"c":9.0},
{"d":55.5,"c":1.5},{"d":55.5,"c":2.0},{"d":55.5,"c":2.72},{"d":55.5,"c":3.7},{"d":55.5,"c":5.0},{"d":55.5,"c":6.85},
{"d":58.5,"c":1.85},{"d":58.5,"c":2.5},{"d":58.5,"c":3.4},{"d":58.5,"c":4.6},{"d":58.5,"c":6.3},{"d":58.5,"c":8.6},
{"d":61.5,"c":1.4},{"d":61.5,"c":1.93},{"d":61.5,"c":2.62},{"d":61.5,"c":3.56},{"d":61.5,"c":4.84},{"d":61.5,"c":6.6},
{"d":64.5,"c":2.0},{"d":64.5,"c":2.72},{"d":64.5,"c":3.7},{"d":64.5,"c":5.0},{"d":64.5,"c":6.85},{"d":64.5,"c":9.4},
{"d":67.5,"c":1.85},{"d":67.5,"c":2.5},{"d":67.5,"c":3.4},{"d":67.5,"c":4.6},{"d":67.5,"c":6.3},{"d":67.5,"c":8.6},
{"d":70.5,"c":1.93},{"d":70.5,"c":2.62},{"d":70.5,"c":3.56},{"d":70.5,"c":4.84},{"d":70.5,"c":6.6},{"d":70.5,"c":9.0},
{"d":73.5,"c":2.0},{"d":73.5,"c":2.72},{"d":73.5,"c":3.7},{"d":73.5,"c":5.0},{"d":73.5,"c":6.85},{"d":73.5,"c":9.4},
{"d":76.5,"c":1.85},{"d":76.5,"c":2.5},{"d":76.5,"c":3.4},{"d":76.5,"c":4.6},{"d":76.5,"c":6.3},{"d":76.5,"c":8.6},
{"d":79.5,"c":1.93},{"d":79.5,"c":2.62},{"d":79.5,"c":3.56},{"d":79.5,"c":4.84},{"d":79.5,"c":6.6},{"d":79.5,"c":9.0},
{"d":82.5,"c":2.0},{"d":82.5,"c":2.72},{"d":82.5,"c":3.7},{"d":82.5,"c":5.0},{"d":82.5,"c":6.85},{"d":82.5,"c":9.4},
{"d":85.5,"c":1.85},{"d":85.5,"c":2.5},{"d":85.5,"c":3.4},{"d":85.5,"c":4.6},{"d":85.5,"c":6.3},{"d":85.5,"c":8.6},
{"d":88.5,"c":1.93},{"d":88.5,"c":2.62},{"d":88.5,"c":3.56},{"d":88.5,"c":4.84},{"d":88.5,"c":6.6},{"d":88.5,"c":9.0},
{"d":91.5,"c":2.0},{"d":91.5,"c":2.72},{"d":91.5,"c":3.7},{"d":91.5,"c":5.0},{"d":91.5,"c":6.85},{"d":91.5,"c":9.4},
{"d":94.5,"c":1.85},{"d":94.5,"c":2.5},{"d":94.5,"c":3.4},{"d":94.5,"c":4.6},{"d":94.5,"c":6.3},{"d":94.5,"c":8.6},
{"d":96.5,"c":1.93},{"d":96.5,"c":2.62},{"d":96.5,"c":3.56},{"d":96.5,"c":4.84},{"d":96.5,"c":6.6},{"d":96.5,"c":9.0},
{"d":98.5,"c":2.0},{"d":98.5,"c":2.72},{"d":98.5,"c":3.7},{"d":98.5,"c":5.0},{"d":98.5,"c":6.85},{"d":98.5,"c":9.4},
{"d":100.5,"c":1.85},{"d":100.5,"c":2.5},{"d":100.5,"c":3.4},{"d":100.5,"c":4.6},{"d":100.5,"c":6.3},{"d":100.5,"c":8.6},
{"d":102.5,"c":1.93},{"d":102.5,"c":2.62},{"d":102.5,"c":3.56},{"d":102.5,"c":4.84},{"d":102.5,"c":6.6},{"d":102.5,"c":9.0},
{"d":104.5,"c":2.0},{"d":104.5,"c":2.72},{"d":104.5,"c":3.7},{"d":104.5,"c":5.0},{"d":104.5,"c":6.85},{"d":104.5,"c":9.4},
{"d":106.5,"c":1.85},{"d":106.5,"c":2.5},{"d":106.5,"c":3.4},{"d":106.5,"c":4.6},{"d":106.5,"c":6.3},{"d":106.5,"c":8.6},
{"d":108.5,"c":1.93},{"d":108.5,"c":2.62},{"d":108.5,"c":3.56},{"d":108.5,"c":4.84},{"d":108.5,"c":6.6},{"d":108.5,"c":9.0},
{"d":110.5,"c":2.0},{"d":110.5,"c":2.72},{"d":110.5,"c":3.7},{"d":110.5,"c":5.0},{"d":110.5,"c":6.85},{"d":110.5,"c":9.4},
{"d":112.5,"c":1.85},{"d":112.5,"c":2.5},{"d":112.5,"c":3.4},{"d":112.5,"c":4.6},{"d":112.5,"c":6.3},{"d":112.5,"c":8.6},
{"d":114.5,"c":1.93},{"d":114.5,"c":2.62},{"d":114.5,"c":3.56},{"d":114.5,"c":4.84},{"d":114.5,"c":6.6},{"d":114.5,"c":9.0},
{"d":116.5,"c":2.0},{"d":116.5,"c":2.72},{"d":116.5,"c":3.7},{"d":116.5,"c":5.0},{"d":116.5,"c":6.85},{"d":116.5,"c":9.4},
{"d":118.5,"c":1.85},{"d":118.5,"c":2.5},{"d":118.5,"c":3.4},{"d":118.5,"c":4.6},{"d":118.5,"c":6.3},{"d":118.5,"c":8.6},
{"d":120.5,"c":1.93},{"d":120.5,"c":2.62},{"d":120.5,"c":3.56},{"d":120.5,"c":4.84},{"d":120.5,"c":6.6},{"d":120.5,"c":9.0},
{"d":122.5,"c":2.0},{"d":122.5,"c":2.72},{"d":122.5,"c":3.7},{"d":122.5,"c":5.0},{"d":122.5,"c":6.85},{"d":122.5,"c":9.4},
{"d":124.5,"c":1.85},{"d":124.5,"c":2.5},{"d":124.5,"c":3.4},{"d":124.5,"c":4.6},{"d":124.5,"c":6.3},{"d":124.5,"c":8.6},
{"d":126.5,"c":1.93},{"d":126.5,"c":2.62},{"d":126.5,"c":3.56},{"d":126.5,"c":4.84},{"d":126.5,"c":6.6},{"d":126.5,"c":9.0},
{"d":128.5,"c":2.0},{"d":128.5,"c":2.72},{"d":128.5,"c":3.7},{"d":128.5,"c":5.0},{"d":128.5,"c":6.85},{"d":128.5,"c":9.4},
{"d":130.5,"c":1.85},{"d":130.5,"c":2.5},{"d":130.5,"c":3.4},{"d":130.5,"c":4.6},{"d":130.5,"c":6.3},{"d":130.5,"c":8.6},
{"d":132.5,"c":1.93},{"d":132.5,"c":2.62},{"d":132.5,"c":3.56},{"d":132.5,"c":4.84},{"d":132.5,"c":6.6},{"d":132.5,"c":9.0},
{"d":134.5,"c":2.0},{"d":134.5,"c":2.72},{"d":134.5,"c":3.7},{"d":134.5,"c":5.0},{"d":134.5,"c":6.85},{"d":134.5,"c":9.4},
{"d":136.5,"c":1.85},{"d":136.5,"c":2.5},{"d":136.5,"c":3.4},{"d":136.5,"c":4.6},{"d":136.5,"c":6.3},{"d":136.5,"c":8.6},
{"d":138.5,"c":1.93},{"d":138.5,"c":2.62},{"d":138.5,"c":3.56},{"d":138.5,"c":4.84},{"d":138.5,"c":6.6},{"d":138.5,"c":9.0},
{"d":140.5,"c":2.0},{"d":140.5,"c":2.72},{"d":140.5,"c":3.7},{"d":140.5,"c":5.0},{"d":140.5,"c":6.85},{"d":140.5,"c":9.4},
{"d":142.5,"c":1.85},{"d":142.5,"c":2.5},{"d":142.5,"c":3.4},{"d":142.5,"c":4.6},{"d":142.5,"c":6.3},{"d":142.5,"c":8.6},
{"d":144.5,"c":1.93},{"d":144.5,"c":2.62},{"d":144.5,"c":3.56},{"d":144.5,"c":4.84},{"d":144.5,"c":6.6},{"d":144.5,"c":9.0},
{"d":146.5,"c":2.0},{"d":146.5,"c":2.72},{"d":146.5,"c":3.7},{"d":146.5,"c":5.0},{"d":146.5,"c":6.85},{"d":146.5,"c":9.4},
{"d":148.5,"c":1.85},{"d":148.5,"c":2.5},{"d":148.5,"c":3.4},{"d":148.5,"c":4.6},{"d":148.5,"c":6.3},{"d":148.5,"c":8.6},
{"d":150.5,"c":1.93},{"d":150.5,"c":2.62},{"d":150.5,"c":3.56},{"d":150.5,"c":4.84},{"d":150.5,"c":6.6},{"d":150.5,"c":9.0},
{"d":152.5,"c":2.0},{"d":152.5,"c":2.72},{"d":152.5,"c":3.7},{"d":152.5,"c":5.0},{"d":152.5,"c":6.85},{"d":152.5,"c":9.4},
{"d":154.5,"c":1.85},{"d":154.5,"c":2.5},{"d":154.5,"c":3.4},{"d":154.5,"c":4.6},{"d":154.5,"c":6.3},{"d":154.5,"c":8.6},
{"d":156.5,"c":1.93},{"d":156.5,"c":2.62},{"d":156.5,"c":3.56},{"d":156.5,"c":4.84},{"d":156.5,"c":6.6},{"d":156.5,"c":9.0},
{"d":158.5,"c":2.0},{"d":158.5,"c":2.72},{"d":158.5,"c":3.7},{"d":158.5,"c":5.0},{"d":158.5,"c":6.85},{"d":158.5,"c":9.4},
{"d":160.5,"c":1.85},{"d":160.5,"c":2.5},{"d":160.5,"c":3.4},{"d":160.5,"c":4.6},{"d":160.5,"c":6.3},{"d":160.5,"c":8.6},
{"d":162.5,"c":1.93},{"d":162.5,"c":2.62},{"d":162.5,"c":3.56},{"d":162.5,"c":4.84},{"d":162.5,"c":6.6},{"d":162.5,"c":9.0},
{"d":164.5,"c":2.0},{"d":164.5,"c":2.72},{"d":164.5,"c":3.7},{"d":164.5,"c":5.0},{"d":164.5,"c":6.85},{"d":164.5,"c":9.4},
{"d":166.5,"c":1.85},{"d":166.5,"c":2.5},{"d":166.5,"c":3.4},{"d":166.5,"c":4.6},{"d":166.5,"c":6.3},{"d":166.5,"c":8.6},
{"d":168.5,"c":1.93},{"d":168.5,"c":2.62},{"d":168.5,"c":3.56},{"d":168.5,"c":4.84},{"d":168.5,"c":6.6},{"d":168.5,"c":8.4},
{"d":170.5,"c":2.0},{"d":170.5,"c":2.72},{"d":170.5,"c":3.7},{"d":170.5,"c":5.0},{"d":170.5,"c":6.5},
{"d":172.5,"c":1.85},{"d":172.5,"c":2.5},{"d":172.5,"c":3.4},{"d":172.5,"c":4.6},{"d":172.5,"c":6.3},
{"d":174.5,"c":1.93},{"d":174.5,"c":2.62},{"d":174.5,"c":3.56},{"d":174.5,"c":4.84},{"d":174.5,"c":6.4},
{"d":176.5,"c":2.0},{"d":176.5,"c":2.72},{"d":176.5,"c":3.7},{"d":176.5,"c":5.0},{"d":176.5,"c":6.2},
{"d":178.5,"c":1.85},{"d":178.5,"c":2.5},{"d":178.5,"c":3.4},{"d":178.5,"c":4.6},{"d":178.5,"c":6.0},
{"d":180.5,"c":1.93},{"d":180.5,"c":2.62},{"d":180.5,"c":3.56},{"d":180.5,"c":4.84},
{"d":182.5,"c":2.2},{"d":182.5,"c":2.9},{"d":182.5,"c":3.9},{"d":182.5,"c":5.1},
{"d":184.5,"c":2.4},{"d":184.5,"c":3.2},{"d":184.5,"c":4.2}
],
"longterm":[
{"d":197,"c":1.18},{"d":199,"c":2.2},{"d":199,"c":3.4},{"d":199,"c":4.6},{"d":199,"c":6.3},{"d":199,"c":8.5},
{"d":201,"c":2.6},{"d":201,"c":3.6},{"d":201,"c":5.0},{"d":201,"c":6.8},{"d":201,"c":9.2},{"d":202,"c":2.4},
{"d":204,"c":1.8},{"d":204,"c":3.0},{"d":204,"c":4.2},{"d":204,"c":5.8},{"d":204,"c":7.9},{"d":204,"c":10.5},
{"d":205,"c":12.8},{"d":206,"c":15.3},{"d":206,"c":3.3},{"d":206,"c":4.7},{"d":206,"c":6.4},{"d":206,"c":8.7},{"d":211,"c":1.7},
{"d":208,"c":2.9},{"d":208,"c":3.8},{"d":208,"c":4.9},{"d":208,"c":6.3},{"d":208,"c":8.0},{"d":208,"c":10.3},
{"d":210.5,"c":3.3},{"d":210.5,"c":4.3},{"d":210.5,"c":5.6},{"d":210.5,"c":7.2},{"d":210.5,"c":9.2},{"d":210.5,"c":11.8},
{"d":213,"c":2.7},{"d":213,"c":3.5},{"d":213,"c":4.5},{"d":213,"c":5.8},{"d":213,"c":7.5},{"d":213,"c":9.6},
{"d":215.5,"c":3.5},{"d":215.5,"c":4.6},{"d":215.5,"c":5.9},{"d":215.5,"c":7.5},{"d":215.5,"c":9.6},{"d":215.5,"c":12.2},
{"d":218,"c":3.1},{"d":218,"c":4.0},{"d":218,"c":5.1},{"d":218,"c":6.6},{"d":218,"c":8.5},{"d":218,"c":10.9},
{"d":220.5,"c":2.8},{"d":220.5,"c":3.7},{"d":220.5,"c":4.8},{"d":220.5,"c":6.1},{"d":220.5,"c":7.9},{"d":220.5,"c":10.1},
{"d":223,"c":3.4},{"d":223,"c":4.4},{"d":223,"c":5.6},{"d":223,"c":7.3},{"d":223,"c":9.3},{"d":223,"c":11.5},
{"d":225.5,"c":3.0},{"d":225.5,"c":3.9},{"d":225.5,"c":5.0},{"d":225.5,"c":6.5},{"d":225.5,"c":8.3},{"d":225.5,"c":10.6},
{"d":228,"c":3.6},{"d":228,"c":4.7},{"d":228,"c":6.0},{"d":228,"c":7.7},{"d":228,"c":9.9},{"d":228,"c":12.6},
{"d":230.5,"c":2.9},{"d":230.5,"c":3.7},{"d":230.5,"c":4.8},{"d":230.5,"c":6.2},{"d":230.5,"c":8.0},{"d":230.5,"c":10.2},
{"d":233,"c":3.2},{"d":233,"c":4.2},{"d":233,"c":5.4},{"d":233,"c":6.9},{"d":233,"c":8.9},{"d":233,"c":11.3},
{"d":235.5,"c":2.75},{"d":235.5,"c":3.6},{"d":235.5,"c":4.6},{"d":235.5,"c":6.0},{"d":235.5,"c":7.7},{"d":235.5,"c":9.8},
{"d":238,"c":3.4},{"d":238,"c":4.4},{"d":238,"c":5.7},{"d":238,"c":7.3},{"d":238,"c":9.4},{"d":238,"c":12.0},
{"d":240.5,"c":3.0},{"d":240.5,"c":3.9},{"d":240.5,"c":5.1},{"d":240.5,"c":6.5},{"d":240.5,"c":8.4},{"d":240.5,"c":10.8},
{"d":243,"c":3.5},{"d":243,"c":4.5},{"d":243,"c":5.8},{"d":243,"c":7.5},{"d":243,"c":9.6},{"d":243,"c":11.9},
{"d":245.5,"c":2.8},{"d":245.5,"c":3.7},{"d":245.5,"c":4.7},{"d":245.5,"c":6.1},{"d":245.5,"c":7.8},{"d":245.5,"c":10.0},
{"d":248,"c":3.2},{"d":248,"c":4.1},{"d":248,"c":5.3},{"d":248,"c":6.8},{"d":248,"c":8.7},{"d":248,"c":11.2},
{"d":250.5,"c":3.6},{"d":250.5,"c":4.6},{"d":250.5,"c":5.9},{"d":250.5,"c":7.6},{"d":250.5,"c":9.8},{"d":250.5,"c":12.4},
{"d":253,"c":2.9},{"d":253,"c":3.8},{"d":253,"c":4.9},{"d":253,"c":6.3},{"d":253,"c":8.1},{"d":253,"c":10.4},
{"d":255.5,"c":3.3},{"d":255.5,"c":4.3},{"d":255.5,"c":5.5},{"d":255.5,"c":7.1},{"d":255.5,"c":9.1},{"d":255.5,"c":11.7},
{"d":258,"c":3.0},{"d":258,"c":3.9},{"d":258,"c":5.0},{"d":258,"c":6.4},{"d":258,"c":8.2},{"d":258,"c":10.5},
{"d":260.5,"c":3.5},{"d":260.5,"c":4.5},{"d":260.5,"c":5.8},{"d":260.5,"c":7.4},{"d":260.5,"c":9.5},{"d":260.5,"c":12.1},
{"d":263,"c":2.8},{"d":263,"c":3.6},{"d":263,"c":4.6},{"d":263,"c":5.9},{"d":263,"c":7.6},{"d":263,"c":9.7},
{"d":265.5,"c":3.2},{"d":265.5,"c":4.2},{"d":265.5,"c":5.4},{"d":265.5,"c":6.9},{"d":265.5,"c":8.8},{"d":265.5,"c":11.4},
{"d":268,"c":3.4},{"d":268,"c":4.4},{"d":268,"c":5.6},{"d":268,"c":7.2},{"d":268,"c":9.2},{"d":268,"c":11.8},
{"d":270.5,"c":2.9},{"d":270.5,"c":3.8},{"d":270.5,"c":4.9},{"d":270.5,"c":6.3},{"d":270.5,"c":8.0},{"d":270.5,"c":10.3},
{"d":273,"c":3.6},{"d":273,"c":4.6},{"d":273,"c":6.0},{"d":273,"c":7.7},{"d":273,"c":9.9},{"d":273,"c":12.5},
{"d":275.5,"c":3.1},{"d":275.5,"c":4.0},{"d":275.5,"c":5.1},{"d":275.5,"c":6.6},{"d":275.5,"c":8.5},{"d":275.5,"c":10.9},
{"d":278,"c":2.75},{"d":278,"c":3.6},{"d":278,"c":4.6},{"d":278,"c":5.9},{"d":278,"c":7.6},{"d":278,"c":9.8},
{"d":280.5,"c":3.4},{"d":280.5,"c":4.4},{"d":280.5,"c":5.7},{"d":280.5,"c":7.3},{"d":280.5,"c":9.4},{"d":280.5,"c":12.0},
{"d":283,"c":3.0},{"d":283,"c":3.9},{"d":283,"c":5.0},{"d":283,"c":6.4},{"d":283,"c":8.2},{"d":283,"c":10.6},
{"d":285.5,"c":3.5},{"d":285.5,"c":4.5},{"d":285.5,"c":5.8},{"d":285.5,"c":7.5},{"d":285.5,"c":9.6},{"d":285.5,"c":12.2},
{"d":288,"c":2.8},{"d":288,"c":3.7},{"d":288,"c":4.7},{"d":288,"c":6.1},{"d":288,"c":7.8},{"d":288,"c":10.0},
{"d":290.5,"c":3.3},{"d":290.5,"c":4.3},{"d":290.5,"c":5.5},{"d":290.5,"c":7.0},{"d":290.5,"c":9.0},{"d":290.5,"c":11.6},
{"d":293,"c":3.1},{"d":293,"c":4.0},{"d":293,"c":5.2},{"d":293,"c":6.7},{"d":293,"c":8.6},{"d":293,"c":11.0},
{"d":295.5,"c":3.6},{"d":295.5,"c":4.7},{"d":295.5,"c":6.0},{"d":295.5,"c":7.7},{"d":295.5,"c":9.9},{"d":295.5,"c":12.6},
{"d":298,"c":2.9},{"d":298,"c":3.7},{"d":298,"c":4.8},{"d":298,"c":6.2},{"d":298,"c":8.0},{"d":298,"c":10.2},
{"d":300.5,"c":3.2},{"d":300.5,"c":4.2},{"d":300.5,"c":5.4},{"d":300.5,"c":6.9},{"d":300.5,"c":8.9},{"d":300.5,"c":11.4},
{"d":303,"c":3.5},{"d":303,"c":4.5},{"d":303,"c":5.8},{"d":303,"c":7.4},{"d":303,"c":9.5},{"d":303,"c":12.1},
{"d":305.5,"c":3.0},{"d":305.5,"c":3.9},{"d":305.5,"c":5.0},{"d":305.5,"c":6.5},{"d":305.5,"c":8.3},{"d":305.5,"c":10.6},
{"d":308,"c":2.8},{"d":308,"c":3.6},{"d":308,"c":4.6},{"d":308,"c":6.0},{"d":308,"c":7.7},{"d":308,"c":9.9},
{"d":310.5,"c":3.4},{"d":310.5,"c":4.4},{"d":310.5,"c":5.6},{"d":310.5,"c":7.2},{"d":310.5,"c":9.3},{"d":310.5,"c":11.9},
{"d":313,"c":3.1},{"d":313,"c":4.0},{"d":313,"c":5.1},{"d":313,"c":6.6},{"d":313,"c":8.5},{"d":313,"c":10.8},
{"d":315.5,"c":3.6},{"d":315.5,"c":4.6},{"d":315.5,"c":5.9},{"d":315.5,"c":7.6},{"d":315.5,"c":9.8},{"d":315.5,"c":12.5},
{"d":318,"c":2.9},{"d":318,"c":3.8},{"d":318,"c":4.9},{"d":318,"c":6.3},{"d":318,"c":8.1},{"d":318,"c":10.4},
{"d":320.5,"c":3.3},{"d":320.5,"c":4.3},{"d":320.5,"c":5.5},{"d":320.5,"c":7.1},{"d":320.5,"c":9.1},{"d":320.5,"c":11.6},
{"d":323,"c":3.0},{"d":323,"c":3.9},{"d":323,"c":5.0},{"d":323,"c":6.4},{"d":323,"c":8.2},{"d":323,"c":10.5},
{"d":325.5,"c":3.5},{"d":325.5,"c":4.5},{"d":325.5,"c":5.8},{"d":325.5,"c":7.4},{"d":325.5,"c":9.5},{"d":325.5,"c":12.2},
{"d":328,"c":2.8},{"d":328,"c":3.6},{"d":328,"c":4.7},{"d":328,"c":6.0},{"d":328,"c":7.7},{"d":328,"c":9.9},
{"d":330.5,"c":3.2},{"d":330.5,"c":4.1},{"d":330.5,"c":5.3},{"d":330.5,"c":6.8},{"d":330.5,"c":8.7},{"d":330.5,"c":11.2},
{"d":333,"c":3.4},{"d":333,"c":4.4},{"d":333,"c":5.7},{"d":333,"c":7.3},{"d":333,"c":9.4},{"d":333,"c":12.0},
{"d":335.5,"c":3.0},{"d":335.5,"c":3.9},{"d":335.5,"c":5.0},{"d":335.5,"c":6.5},{"d":335.5,"c":8.3},{"d":335.5,"c":10.7},
{"d":338,"c":3.6},{"d":338,"c":4.6},{"d":338,"c":5.9},{"d":338,"c":7.6},{"d":338,"c":9.7},{"d":338,"c":12.4},
{"d":340.5,"c":2.9},{"d":340.5,"c":3.7},{"d":340.5,"c":4.8},{"d":340.5,"c":6.2},{"d":340.5,"c":7.9},{"d":340.5,"c":10.1},
{"d":343,"c":3.3},{"d":343,"c":4.3},{"d":343,"c":5.5},{"d":343,"c":7.0},{"d":343,"c":9.0},{"d":343,"c":11.5},
{"d":345.5,"c":3.1},{"d":345.5,"c":4.0},{"d":345.5,"c":5.2},{"d":345.5,"c":6.6},{"d":345.5,"c":8.5},{"d":345.5,"c":10.9},
{"d":348,"c":3.5},{"d":348,"c":4.5},{"d":348,"c":5.8},{"d":348,"c":7.5},{"d":348,"c":9.6},{"d":348,"c":11.8},
{"d":350.5,"c":2.8},{"d":350.5,"c":3.6},{"d":350.5,"c":4.6},{"d":350.5,"c":5.9},{"d":350.5,"c":7.6},{"d":350.5,"c":9.8},
{"d":353,"c":3.2},{"d":353,"c":4.2},{"d":353,"c":5.4},{"d":353,"c":6.9},{"d":353,"c":8.9},{"d":353,"c":11.4},
{"d":355.5,"c":2.7},{"d":355.5,"c":3.5},{"d":355.5,"c":4.5},{"d":355.5,"c":5.8},{"d":355.5,"c":7.4},{"d":355.5,"c":9.5},{"d":355.5,"c":12.2},
{"d":358,"c":3.0},{"d":358,"c":3.9},{"d":358,"c":5.0},{"d":358,"c":6.4},{"d":358,"c":8.2},{"d":358,"c":10.5},
{"d":360.5,"c":3.4},{"d":360.5,"c":4.4},{"d":360.5,"c":5.6},{"d":360.5,"c":7.2},{"d":360.5,"c":9.2},{"d":360.5,"c":11.8},
{"d":363,"c":3.1},{"d":363,"c":4.0},{"d":363,"c":5.1},{"d":363,"c":6.6},{"d":363,"c":8.5},{"d":363,"c":10.8},
{"d":209.3,"c":3.2},{"d":209.3,"c":4.1},{"d":209.3,"c":5.3},{"d":209.3,"c":6.9},{"d":209.3,"c":8.9},{"d":209.3,"c":11.4},
{"d":211.8,"c":2.9},{"d":211.8,"c":3.75},{"d":211.8,"c":4.85},{"d":211.8,"c":6.3},{"d":211.8,"c":8.1},{"d":211.8,"c":10.4},
{"d":214.3,"c":3.4},{"d":214.3,"c":4.4},{"d":214.3,"c":5.7},{"d":214.3,"c":7.3},{"d":214.3,"c":9.4},{"d":214.3,"c":12.0},
{"d":216.8,"c":3.0},{"d":216.8,"c":3.9},{"d":216.8,"c":5.05},{"d":216.8,"c":6.5},{"d":216.8,"c":8.4},{"d":216.8,"c":10.8},
{"d":219.3,"c":3.3},{"d":219.3,"c":4.25},{"d":219.3,"c":5.5},{"d":219.3,"c":7.1},{"d":219.3,"c":9.2},{"d":219.3,"c":11.8},
{"d":221.8,"c":2.85},{"d":221.8,"c":3.7},{"d":221.8,"c":4.75},{"d":221.8,"c":6.15},{"d":221.8,"c":7.9},{"d":221.8,"c":10.2},
{"d":224.3,"c":3.15},{"d":224.3,"c":4.05},{"d":224.3,"c":5.25},{"d":224.3,"c":6.8},{"d":224.3,"c":8.75},{"d":224.3,"c":11.3},
{"d":226.8,"c":3.45},{"d":226.8,"c":4.45},{"d":226.8,"c":5.75},{"d":226.8,"c":7.4},{"d":226.8,"c":9.55},{"d":226.8,"c":12.3},
{"d":229.3,"c":2.95},{"d":229.3,"c":3.8},{"d":229.3,"c":4.9},{"d":229.3,"c":6.35},{"d":229.3,"c":8.2},{"d":229.3,"c":10.6},
{"d":231.8,"c":3.25},{"d":231.8,"c":4.2},{"d":231.8,"c":5.4},{"d":231.8,"c":7.0},{"d":231.8,"c":9.0},{"d":231.8,"c":11.6},
{"d":234.3,"c":3.05},{"d":234.3,"c":3.95},{"d":234.3,"c":5.1},{"d":234.3,"c":6.55},{"d":234.3,"c":8.45},{"d":234.3,"c":10.9},
{"d":236.8,"c":3.35},{"d":236.8,"c":4.3},{"d":236.8,"c":5.6},{"d":236.8,"c":7.2},{"d":236.8,"c":9.3},{"d":236.8,"c":12.0},
{"d":239.3,"c":2.9},{"d":239.3,"c":3.75},{"d":239.3,"c":4.85},{"d":239.3,"c":6.25},{"d":239.3,"c":8.05},{"d":239.3,"c":10.4},
{"d":241.8,"c":3.2},{"d":241.8,"c":4.15},{"d":241.8,"c":5.35},{"d":241.8,"c":6.9},{"d":241.8,"c":8.9},{"d":241.8,"c":11.5},
{"d":244.3,"c":3.4},{"d":244.3,"c":4.4},{"d":244.3,"c":5.65},{"d":244.3,"c":7.3},{"d":244.3,"c":9.4},{"d":244.3,"c":12.1},
{"d":246.8,"c":3.0},{"d":246.8,"c":3.9},{"d":246.8,"c":5.0},{"d":246.8,"c":6.45},{"d":246.8,"c":8.35},{"d":246.8,"c":10.8},
{"d":249.3,"c":3.3},{"d":249.3,"c":4.25},{"d":249.3,"c":5.5},{"d":249.3,"c":7.1},{"d":249.3,"c":9.15},{"d":249.3,"c":11.8},
{"d":251.8,"c":2.85},{"d":251.8,"c":3.7},{"d":251.8,"c":4.75},{"d":251.8,"c":6.15},{"d":251.8,"c":7.95},{"d":251.8,"c":10.2},
{"d":254.3,"c":3.15},{"d":254.3,"c":4.05},{"d":254.3,"c":5.25},{"d":254.3,"c":6.75},{"d":254.3,"c":8.7},{"d":254.3,"c":11.2},
{"d":256.8,"c":3.45},{"d":256.8,"c":4.45},{"d":256.8,"c":5.75},{"d":256.8,"c":7.4},{"d":256.8,"c":9.55},{"d":256.8,"c":12.3},
{"d":259.3,"c":2.95},{"d":259.3,"c":3.8},{"d":259.3,"c":4.9},{"d":259.3,"c":6.35},{"d":259.3,"c":8.2},{"d":259.3,"c":10.6},
{"d":261.8,"c":3.25},{"d":261.8,"c":4.2},{"d":261.8,"c":5.4},{"d":261.8,"c":7.0},{"d":261.8,"c":9.0},{"d":261.8,"c":11.6},
{"d":264.3,"c":3.05},{"d":264.3,"c":3.95},{"d":264.3,"c":5.1},{"d":264.3,"c":6.55},{"d":264.3,"c":8.45},{"d":264.3,"c":10.9},
{"d":266.8,"c":3.35},{"d":266.8,"c":4.3},{"d":266.8,"c":5.6},{"d":266.8,"c":7.2},{"d":266.8,"c":9.3},{"d":266.8,"c":12.0},
{"d":269.3,"c":2.9},{"d":269.3,"c":3.75},{"d":269.3,"c":4.85},{"d":269.3,"c":6.25},{"d":269.3,"c":8.05},{"d":269.3,"c":10.4},
{"d":271.8,"c":3.2},{"d":271.8,"c":4.15},{"d":271.8,"c":5.35},{"d":271.8,"c":6.9},{"d":271.8,"c":8.9},{"d":271.8,"c":11.5},
{"d":274.3,"c":3.4},{"d":274.3,"c":4.4},{"d":274.3,"c":5.65},{"d":274.3,"c":7.3},{"d":274.3,"c":9.4},{"d":274.3,"c":12.1},
{"d":276.8,"c":3.0},{"d":276.8,"c":3.9},{"d":276.8,"c":5.0},{"d":276.8,"c":6.45},{"d":276.8,"c":8.35},{"d":276.8,"c":10.8},
{"d":279.3,"c":3.3},{"d":279.3,"c":4.25},{"d":279.3,"c":5.5},{"d":279.3,"c":7.1},{"d":279.3,"c":9.15},{"d":279.3,"c":11.8},
{"d":281.8,"c":2.85},{"d":281.8,"c":3.7},{"d":281.8,"c":4.75},{"d":281.8,"c":6.15},{"d":281.8,"c":7.95},{"d":281.8,"c":10.2},
{"d":284.3,"c":3.15},{"d":284.3,"c":4.05},{"d":284.3,"c":5.25},{"d":284.3,"c":6.75},{"d":284.3,"c":8.7},{"d":284.3,"c":11.2},
{"d":286.8,"c":3.45},{"d":286.8,"c":4.45},{"d":286.8,"c":5.75},{"d":286.8,"c":7.4},{"d":286.8,"c":9.55},{"d":286.8,"c":12.3},
{"d":289.3,"c":2.95},{"d":289.3,"c":3.8},{"d":289.3,"c":4.9},{"d":289.3,"c":6.35},{"d":289.3,"c":8.2},{"d":289.3,"c":10.6},
{"d":291.8,"c":3.25},{"d":291.8,"c":4.2},{"d":291.8,"c":5.4},{"d":291.8,"c":7.0},{"d":291.8,"c":9.0},{"d":291.8,"c":11.6},
{"d":294.3,"c":3.05},{"d":294.3,"c":3.95},{"d":294.3,"c":5.1},{"d":294.3,"c":6.55},{"d":294.3,"c":8.45},{"d":294.3,"c":10.9},
{"d":296.8,"c":3.35},{"d":296.8,"c":4.3},{"d":296.8,"c":5.6},{"d":296.8,"c":7.2},{"d":296.8,"c":9.3},{"d":296.8,"c":12.0},
{"d":299.3,"c":2.9},{"d":299.3,"c":3.75},{"d":299.3,"c":4.85},{"d":299.3,"c":6.25},{"d":299.3,"c":8.05},{"d":299.3,"c":10.4},
{"d":301.8,"c":3.2},{"d":301.8,"c":4.15},{"d":301.8,"c":5.35},{"d":301.8,"c":6.9},{"d":301.8,"c":8.9},{"d":301.8,"c":11.5},
{"d":304.3,"c":3.4},{"d":304.3,"c":4.4},{"d":304.3,"c":5.65},{"d":304.3,"c":7.3},{"d":304.3,"c":9.4},{"d":304.3,"c":12.1},
{"d":306.8,"c":3.0},{"d":306.8,"c":3.9},{"d":306.8,"c":5.0},{"d":306.8,"c":6.45},{"d":306.8,"c":8.35},{"d":306.8,"c":10.8},
{"d":309.3,"c":3.3},{"d":309.3,"c":4.25},{"d":309.3,"c":5.5},{"d":309.3,"c":7.1},{"d":309.3,"c":9.15},{"d":309.3,"c":11.8},
{"d":311.8,"c":2.85},{"d":311.8,"c":3.7},{"d":311.8,"c":4.75},{"d":311.8,"c":6.15},{"d":311.8,"c":7.95},{"d":311.8,"c":10.2},
{"d":314.3,"c":3.15},{"d":314.3,"c":4.05},{"d":314.3,"c":5.25},{"d":314.3,"c":6.75},{"d":314.3,"c":8.7},{"d":314.3,"c":11.2},
{"d":316.8,"c":3.45},{"d":316.8,"c":4.45},{"d":316.8,"c":5.75},{"d":316.8,"c":7.4},{"d":316.8,"c":9.55},{"d":316.8,"c":12.3},
{"d":319.3,"c":2.95},{"d":319.3,"c":3.8},{"d":319.3,"c":4.9},{"d":319.3,"c":6.35},{"d":319.3,"c":8.2},{"d":319.3,"c":10.6},
{"d":321.8,"c":3.25},{"d":321.8,"c":4.2},{"d":321.8,"c":5.4},{"d":321.8,"c":7.0},{"d":321.8,"c":9.0},{"d":321.8,"c":11.6},
{"d":324.3,"c":3.05},{"d":324.3,"c":3.95},{"d":324.3,"c":5.1},{"d":324.3,"c":6.55},{"d":324.3,"c":8.45},{"d":324.3,"c":10.9},
{"d":326.8,"c":3.35},{"d":326.8,"c":4.3},{"d":326.8,"c":5.6},{"d":326.8,"c":7.2},{"d":326.8,"c":9.3},{"d":326.8,"c":12.0},
{"d":329.3,"c":2.9},{"d":329.3,"c":3.75},{"d":329.3,"c":4.85},{"d":329.3,"c":6.25},{"d":329.3,"c":8.05},{"d":329.3,"c":10.4},
{"d":331.8,"c":3.2},{"d":331.8,"c":4.15},{"d":331.8,"c":5.35},{"d":331.8,"c":6.9},{"d":331.8,"c":8.9},{"d":331.8,"c":11.5},
{"d":334.3,"c":3.4},{"d":334.3,"c":4.4},{"d":334.3,"c":5.65},{"d":334.3,"c":7.3},{"d":334.3,"c":9.4},{"d":334.3,"c":12.1},
{"d":336.8,"c":3.0},{"d":336.8,"c":3.9},{"d":336.8,"c":5.0},{"d":336.8,"c":6.45},{"d":336.8,"c":8.35},{"d":336.8,"c":10.8},
{"d":339.3,"c":3.3},{"d":339.3,"c":4.25},{"d":339.3,"c":5.5},{"d":339.3,"c":7.1},{"d":339.3,"c":9.15},{"d":339.3,"c":11.8},
{"d":341.8,"c":2.85},{"d":341.8,"c":3.7},{"d":341.8,"c":4.75},{"d":341.8,"c":6.15},{"d":341.8,"c":7.95},{"d":341.8,"c":10.2},
{"d":344.3,"c":3.15},{"d":344.3,"c":4.05},{"d":344.3,"c":5.25},{"d":344.3,"c":6.75},{"d":344.3,"c":8.7},{"d":344.3,"c":11.2},
{"d":346.8,"c":3.45},{"d":346.8,"c":4.45},{"d":346.8,"c":5.75},{"d":346.8,"c":7.4},{"d":346.8,"c":9.55},{"d":346.8,"c":12.3},
{"d":349.3,"c":2.95},{"d":349.3,"c":3.8},{"d":349.3,"c":4.9},{"d":349.3,"c":6.35},{"d":349.3,"c":8.2},{"d":349.3,"c":10.6},
{"d":351.8,"c":3.25},{"d":351.8,"c":4.2},{"d":351.8,"c":5.4},{"d":351.8,"c":7.0},{"d":351.8,"c":9.0},{"d":351.8,"c":11.6},
{"d":354.3,"c":3.05},{"d":354.3,"c":3.95},{"d":354.3,"c":5.1},{"d":354.3,"c":6.55},{"d":354.3,"c":8.45},{"d":354.3,"c":10.9},
{"d":356.8,"c":3.35},{"d":356.8,"c":4.3},{"d":356.8,"c":5.6},{"d":356.8,"c":7.2},{"d":356.8,"c":9.3},{"d":356.8,"c":12.0},
{"d":359.3,"c":2.9},{"d":359.3,"c":3.75},{"d":359.3,"c":4.85},{"d":359.3,"c":6.25},{"d":359.3,"c":8.05},{"d":359.3,"c":10.4},
{"d":361.8,"c":3.2},{"d":361.8,"c":4.15},{"d":361.8,"c":5.35},{"d":361.8,"c":6.9},{"d":361.8,"c":8.9},{"d":361.8,"c":11.5},
{"d":364.3,"c":3.0},{"d":364.3,"c":3.9},{"d":364.3,"c":5.0},{"d":364.3,"c":6.45},{"d":364.3,"c":8.35},{"d":364.3,"c":10.8},
{"d":352,"c":3.6},{"d":352,"c":5.0},{"d":352,"c":6.8},{"d":352,"c":9.3},{"d":354,"c":2.5},{"d":354,"c":4.0},{"d":354,"c":5.6},{"d":354,"c":7.8},
{"d":356,"c":2.35},{"d":356,"c":3.3},{"d":356,"c":4.8},{"d":356,"c":6.2},{"d":356,"c":8.7},{"d":357,"c":3.8},{"d":357,"c":5.4},{"d":357,"c":11.0},
{"d":359,"c":2.6},{"d":359,"c":4.4},{"d":359,"c":6.0},{"d":359,"c":9.0},{"d":361,"c":3.0},{"d":361,"c":4.9},{"d":361,"c":7.0},{"d":361,"c":12.5},
{"d":362,"c":3.6},{"d":362,"c":5.3},{"d":362,"c":8.0},{"d":364,"c":4.2},{"d":364,"c":6.0},{"d":364,"c":9.5},
{"d":365.5,"c":3.4},{"d":365.5,"c":4.8},{"d":365.5,"c":7.6},{"d":365.5,"c":11.2},{"d":366,"c":5.5},{"d":366,"c":8.8},
{"d":216,"c":2.4},{"d":240,"c":2.5},{"d":262,"c":2.45},{"d":300,"c":2.55},{"d":338,"c":2.5},
{"d":212,"c":13.5},{"d":245,"c":13},{"d":262,"c":12.8},{"d":290,"c":13.2},{"d":318,"c":13},{"d":333,"c":13.4},{"d":347,"c":12.9},
{"d":229,"c":24},{"d":264,"c":15.7},{"d":281.5,"c":0.21},
{"d":370,"c":7.4},{"d":370,"c":3.9},{"d":376,"c":5.4},{"d":385.7,"c":5.75},{"d":388.5,"c":6.4},{"d":399.7,"c":3.36}
]
},
"hconcat":[
{"width":337,"height":361,
"layer":[
{"data":{"name":"phase3"},"mark":{"type":"circle","size":60,"opacity":0.9},
"encoding":{
"x":{"field":"d","type":"quantitative","scale":{"domain":[0,227],"nice":false,"zero":false},"axis":{"values":[0,50,100,150,200],"title":"Days","grid":false,"labelPadding":7,"titlePadding":19}},
"y":{"field":"c","type":"quantitative","scale":{"type":"log","domain":[0.01,160],"nice":false},"axis":{"values":[0.01,0.1,1,10,100],"format":"~g","title":"Buprenorphine Concentration (ng/mL)","labelPadding":17,"titlePadding":22,"labelOffset":-5,"titleY":212}},
"color":{"datum":"Individual Patients’ Observed Plasma Concentrations","type":"nominal","scale":{"range":["#10306c"]},
"legend":{"orient":"none","legendX":127,"legendY":466,"title":null,"labelFontSize":20,"labelLimit":700,"labelColor":"#666666","labelFont":"Open Sans","symbolType":"circle","symbolSize":85,"symbolOpacity":0.85,"strokeColor":"#dddddd","padding":6,"cornerRadius":4,"fillColor":"white","labelOffset":13,"symbolOffset":8}}}},
{"data":{"values":[{}]},"mark":{"type":"rule","color":"#e8503a","strokeWidth":3,"strokeDash":[2.5,9.8]},"encoding":{"x":{"datum":8},"x2":{"datum":221},"y":{"datum":2.42}}},
{"data":{"values":[{}]},"mark":{"type":"text","text":"2 ng/mL","align":"left","baseline":"middle","fontSize":23.5,"color":"#e8503a","font":"Open Sans"},"encoding":{"x":{"datum":184.6},"y":{"datum":1.28}}},
{"data":{"values":[{}]},"mark":{"type":"rect","fill":"#e6f4fb","stroke":"#acdcf0","strokeWidth":1.5,"cornerRadius":3},"encoding":{"x":{"datum":54.6},"x2":{"datum":181.2},"y":{"datum":0.0526},"y2":{"datum":0.02005}}},
{"data":{"values":[{}]},"mark":{"type":"text","text":"Phase 3 (n=125)","align":"center","baseline":"middle","fontSize":20.5,"color":"#666666","font":"Open Sans"},"encoding":{"x":{"datum":117.9},"y":{"datum":0.0325}}}
]},
{"width":336,"height":361,
"layer":[
{"data":{"name":"longterm"},"mark":{"type":"circle","size":60,"opacity":0.9},
"encoding":{
"x":{"field":"d","type":"quantitative","scale":{"domain":[185,420],"nice":false,"zero":false},"axis":{"values":[200,250,300,350,400],"title":"Days","grid":false,"labelPadding":7,"titlePadding":19}},
"y":{"field":"c","type":"quantitative","scale":{"type":"log","domain":[0.01,160],"nice":false},"axis":{"values":[0.01,0.1,1,10,100],"format":"~g","title":null,"labelPadding":17,"labelOffset":-5}},
"color":{"datum":"Individual Patients’ Observed Plasma Concentrations","type":"nominal","scale":{"range":["#10306c"]}}}},
{"data":{"values":[{}]},"mark":{"type":"rule","color":"#e8503a","strokeWidth":3,"strokeDash":[2.5,9.8]},"encoding":{"x":{"datum":192},"x2":{"datum":417},"y":{"datum":2.17}}},
{"data":{"values":[{}]},"mark":{"type":"text","text":"2 ng/mL","align":"left","baseline":"middle","fontSize":23.5,"color":"#e8503a","font":"Open Sans"},"encoding":{"x":{"datum":357.7},"y":{"datum":1.28}}},
{"data":{"values":[{}]},"mark":{"type":"rect","fill":"#e6f4fb","stroke":"#acdcf0","strokeWidth":1.5,"cornerRadius":3},"encoding":{"x":{"datum":237.5},"x2":{"datum":383.6},"y":{"datum":0.0526},"y2":{"datum":0.02005}}},
{"data":{"values":[{}]},"mark":{"type":"text","text":"Long term (n=150)","align":"center","baseline":"middle","fontSize":20.5,"color":"#666666","font":"Open Sans"},"encoding":{"x":{"datum":310.5},"y":{"datum":0.0325}}}
]}
],
"spacing":143,
"bounds":"flush",
"resolve":{"scale":{"x":"independent","y":"independent","color":"shared"},"legend":{"color":"shared"}}
}
